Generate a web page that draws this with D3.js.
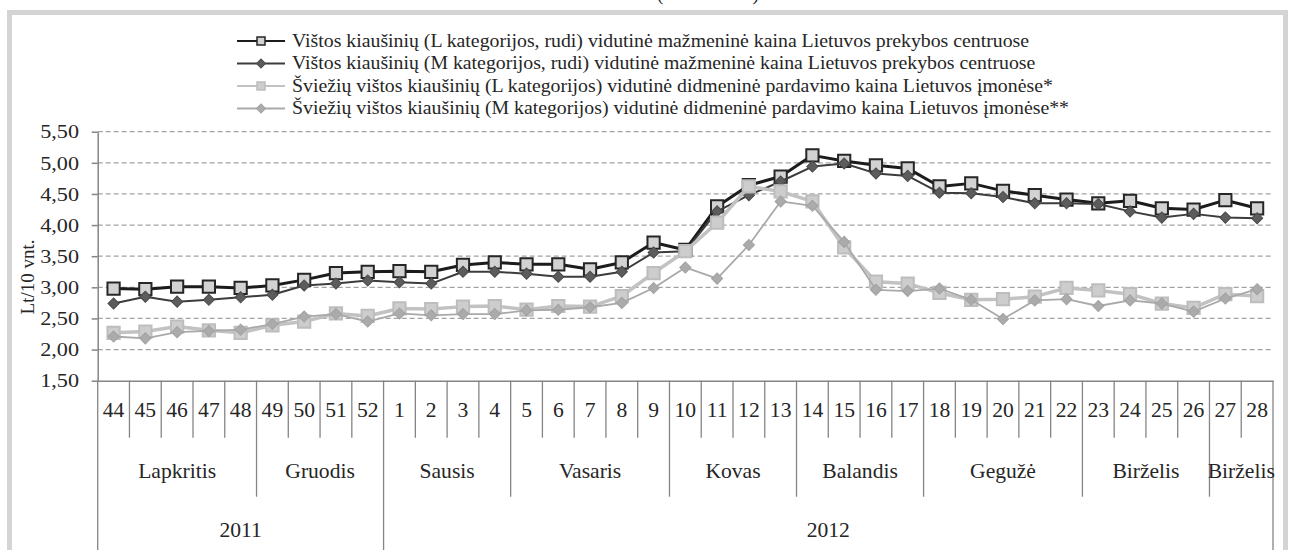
<!DOCTYPE html>
<html>
<head>
<meta charset="utf-8">
<script src="https://cdn.jsdelivr.net/npm/d3@7"></script>
<style>
  html, body { margin: 0; padding: 0; background: #fff; }
  svg { display: block; font-family: "Liberation Serif", "Times New Roman", serif; }
</style>
</head>
<body>
<svg id="chart" width="1290" height="550"></svg>
<script>
// Data //

const weeks = [44, 45, 46, 47, 48, 49, 50, 51, 52,
  1, 2, 3, 4, 5, 6, 7, 8, 9, 10, 11, 12, 13, 14, 15, 16, 17, 18, 19, 20, 21, 22, 23, 24, 25, 26, 27, 28]
const months = ['Lapkritis', 'Gruodis', 'Sausis', 'Vasaris', 'Kovas', 'Balandis', 'Gegužė', 'Birželis', 'Birželis']
const monthWeeks = [5, 4, 4, 5, 4, 4, 5, 4, 2]
const years = ['2011', '2012']
const yearWeeks = [9, 28]
const yTicks = [1.5, 2.0, 2.5, 3.0, 3.5, 4.0, 4.5, 5.0, 5.5]

const seriesNames = [
  'Vištos kiaušinių (L kategorijos, rudi) vidutinė mažmeninė kaina Lietuvos prekybos centruose',
  'Vištos kiaušinių (M kategorijos, rudi) vidutinė mažmeninė kaina Lietuvos prekybos centruose',
  'Šviežių vištos kiaušinių (L kategorijos) vidutinė didmeninė pardavimo kaina Lietuvos įmonėse*',
  'Šviežių vištos kiaušinių (M kategorijos) vidutinė didmeninė pardavimo kaina Lietuvos įmonėse**',
]
const retailL = [2.98, 2.97, 3.01, 3.01, 2.99, 3.03, 3.12, 3.23, 3.25,
  3.26, 3.25, 3.36, 3.40, 3.37, 3.37, 3.29, 3.40, 3.72, 3.60, 4.30, 4.64, 4.78, 5.12, 5.03,
  4.96, 4.91, 4.62, 4.67, 4.55, 4.48, 4.41, 4.35, 4.39, 4.27, 4.25, 4.40, 4.27]
const retailM = [2.74, 2.85, 2.77, 2.80, 2.84, 2.88, 3.03, 3.06, 3.11,
  3.08, 3.06, 3.25, 3.25, 3.22, 3.17, 3.17, 3.25, 3.56, 3.58, 4.22, 4.48, 4.70, 4.94, 4.99,
  4.83, 4.79, 4.52, 4.51, 4.45, 4.35, 4.35, 4.34, 4.22, 4.12, 4.18, 4.12, 4.11]
const wholesaleL = [2.27, 2.29, 2.37, 2.31, 2.27, 2.39, 2.45, 2.58, 2.54,
  2.66, 2.65, 2.69, 2.70, 2.64, 2.70, 2.69, 2.86, 3.23, 3.58, 4.04, 4.62, 4.54, 4.38, 3.64,
  3.09, 3.06, 2.91, 2.80, 2.81, 2.85, 2.99, 2.95, 2.89, 2.74, 2.67, 2.89, 2.86]
const wholesaleM = [2.21, 2.18, 2.28, 2.30, 2.32, 2.41, 2.53, 2.57, 2.45,
  2.58, 2.55, 2.57, 2.57, 2.63, 2.64, 2.68, 2.75, 2.99, 3.32, 3.14, 3.68, 4.38, 4.31, 3.73,
  2.96, 2.94, 2.98, 2.80, 2.49, 2.79, 2.81, 2.70, 2.79, 2.74, 2.61, 2.82, 2.97]

// Styles //

const styles = [
  { values: retailL,    line: '#1c1c1c', width: 3,   marker: 'square',  fill: '#d2d2d2', stroke: '#262626' },
  { values: retailM,    line: '#3c3c3c', width: 2,   marker: 'diamond', fill: '#5c5c5c', stroke: '#4a4a4a' },
  { values: wholesaleL, line: '#c2c2c2', width: 3.5, marker: 'square',  fill: '#cdcdcd', stroke: '#bdbdbd' },
  { values: wholesaleM, line: '#a9a9a9', width: 1.8, marker: 'diamond', fill: '#ababab', stroke: '#a2a2a2' },
]

const plot = { left: 97.7, right: 1273, top: 131.7, bottom: 380.7 }
const textColor = '#262626'
const axisColor = '#858585'
const serif = '"Liberation Serif", "Times New Roman", serif'

const svg = d3.select('#chart')

// outer frame of the figure
svg.append('rect')
  .attr('x', 9.5).attr('y', 12.5)
  .attr('width', 1276).attr('height', 620)
  .attr('fill', 'none')
  .attr('stroke', '#d4d4d4')
  .attr('stroke-width', 5)

// title above, cut by the picture edge
svg.append('text')
  .attr('x', 708).attr('y', 0.3)
  .attr('text-anchor', 'middle')
  .attr('font-size', 20)
  .attr('fill', textColor)
  .text('(2011–2012)')

// Scales //

const x = d3.scaleBand()
  .domain(weeks.map(String))
  .range([plot.left, plot.right])
const cx = (i) => x(String(weeks[i])) + x.bandwidth() / 2

const y = d3.scaleLinear()
  .domain([1.5, 5.5])
  .range([plot.bottom, plot.top])

const fmt = d3.formatLocale({ decimal: ',', thousands: ' ', grouping: [3], currency: ['', ''] }).format('.2f')

// Grid //

svg.append('g')
  .selectAll('line')
  .data(yTicks.slice(1))
  .join('line')
    .attr('x1', plot.left).attr('x2', plot.right)
    .attr('y1', d => y(d)).attr('y2', d => y(d))
    .attr('stroke', '#a3a3a3')
    .attr('stroke-width', 1.2)
    .attr('stroke-dasharray', '5,3')

// Y axis //

svg.append('g')
  .attr('transform', 'translate(' + plot.left + ',0)')
  .call(d3.axisLeft(y).tickValues(yTicks).tickFormat(fmt).tickSize(6).tickSizeOuter(0))
  .attr('font-family', serif).attr('font-size', null)
  .call(g => g.select('.domain').attr('stroke', axisColor).attr('stroke-width', 1.5))
  .call(g => g.selectAll('.tick line').attr('stroke', axisColor).attr('stroke-width', 1.5))
  .call(g => g.selectAll('.tick text')
    .attr('x', 0)
    .attr('dy', '0.34em')
    .attr('font-size', 18.5)
    .attr('fill', textColor)
    .attr('transform', 'translate(-18.7,0) scale(1.2,1)'))

svg.append('text')
  .attr('transform', 'translate(27,277) rotate(-90)')
  .attr('text-anchor', 'middle')
  .attr('dy', '0.35em')
  .attr('font-size', 19)
  .attr('fill', textColor)
  .text('Lt/10 vnt.')

// X axis (weeks / months / years) //

const xAxis = svg.append('g')
  .attr('transform', 'translate(0,' + plot.bottom + ')')
  .call(d3.axisBottom(x).tickSize(0).tickSizeOuter(0))
  .attr('font-family', serif).attr('font-size', null)
  .call(g => g.select('.domain').attr('stroke', axisColor).attr('stroke-width', 1.5))
  .call(g => g.selectAll('.tick text')
    .attr('y', 36)
    .attr('dy', null)
    .attr('font-size', 20)
    .attr('fill', textColor)
    .attr('transform', 'scale(1.08,1)'))

const monthEdges = d3.cumsum(monthWeeks)
const yearEdges = d3.cumsum(yearWeeks)
const edgeX = (i) => i < weeks.length ? x(String(weeks[i])) : plot.right
const edgeDepth = (i) => (i === 0 || yearEdges.includes(i)) ? 180 :
                         monthEdges.includes(i) ? 116 : 57

xAxis.append('g')
  .selectAll('line')
  .data(d3.range(weeks.length + 1))
  .join('line')
    .attr('x1', d => edgeX(d)).attr('x2', d => edgeX(d))
    .attr('y1', 0).attr('y2', d => edgeDepth(d))
    .attr('stroke', axisColor)
    .attr('stroke-width', 1.3)

const groupLabels = (names, spans, yPos) => {
  const starts = [0, ...d3.cumsum(spans)]
  xAxis.append('g')
    .selectAll('text')
    .data(names)
    .join('text')
      .attr('transform', (_, i) => {
        const mid = (edgeX(starts[i]) + edgeX(starts[i + 1])) / 2
        return 'translate(' + mid + ',' + yPos + ') scale(1.08,1)'
      })
      .attr('text-anchor', 'middle')
      .attr('font-size', 20)
      .attr('fill', textColor)
      .text(d => d)
}
groupLabels(months, monthWeeks, 97.6)
groupLabels(years, yearWeeks, 156)

// Series //

const squareMark = d3.symbol(d3.symbolSquare, 150)
const diamondMark = d3.symbol(d3.symbolSquare, 62)
const line = d3.line()
  .x((_, i) => cx(i))
  .y(d => y(d))

styles.forEach(s => {
  const g = svg.append('g')
  g.append('path')
    .attr('d', line(s.values))
    .attr('fill', 'none')
    .attr('stroke', s.line)
    .attr('stroke-width', s.width)
    .attr('stroke-linejoin', 'round')
  g.selectAll('path.mark')
    .data(s.values)
    .join('path')
      .attr('class', 'mark')
      .attr('d', s.marker === 'square' ? squareMark : diamondMark)
      .attr('transform', (d, i) => 'translate(' + cx(i) + ',' + y(d) + ')' + (s.marker === 'diamond' ? ' rotate(45)' : ''))
      .attr('fill', s.fill)
      .attr('stroke', s.stroke)
      .attr('stroke-width', s.marker === 'square' ? 2 : 1)
})

// Legend //

const legend = svg.append('g')
const legendRows = [41, 63.5, 86, 108.5]
styles.forEach((s, i) => {
  const row = legend.append('g').attr('transform', 'translate(0,' + legendRows[i] + ')')
  row.append('line')
    .attr('x1', 237).attr('x2', 285)
    .attr('stroke', s.line)
    .attr('stroke-width', s.marker === 'square' ? 2.2 : 2)
  row.append('path')
    .attr('d', d3.symbol(d3.symbolSquare, s.marker === 'square' ? 64 : 40)())
    .attr('transform', 'translate(261,0)' + (s.marker === 'diamond' ? ' rotate(45)' : ''))
    .attr('fill', s.fill)
    .attr('stroke', s.stroke)
    .attr('stroke-width', s.marker === 'square' ? 1.5 : 1)
  row.append('text')
    .attr('transform', 'translate(292,0) scale(1.1,1)')
    .attr('dy', '0.33em')
    .attr('font-size', 18)
    .attr('fill', textColor)
    .text(seriesNames[i])
})
</script>
</body>
</html>
